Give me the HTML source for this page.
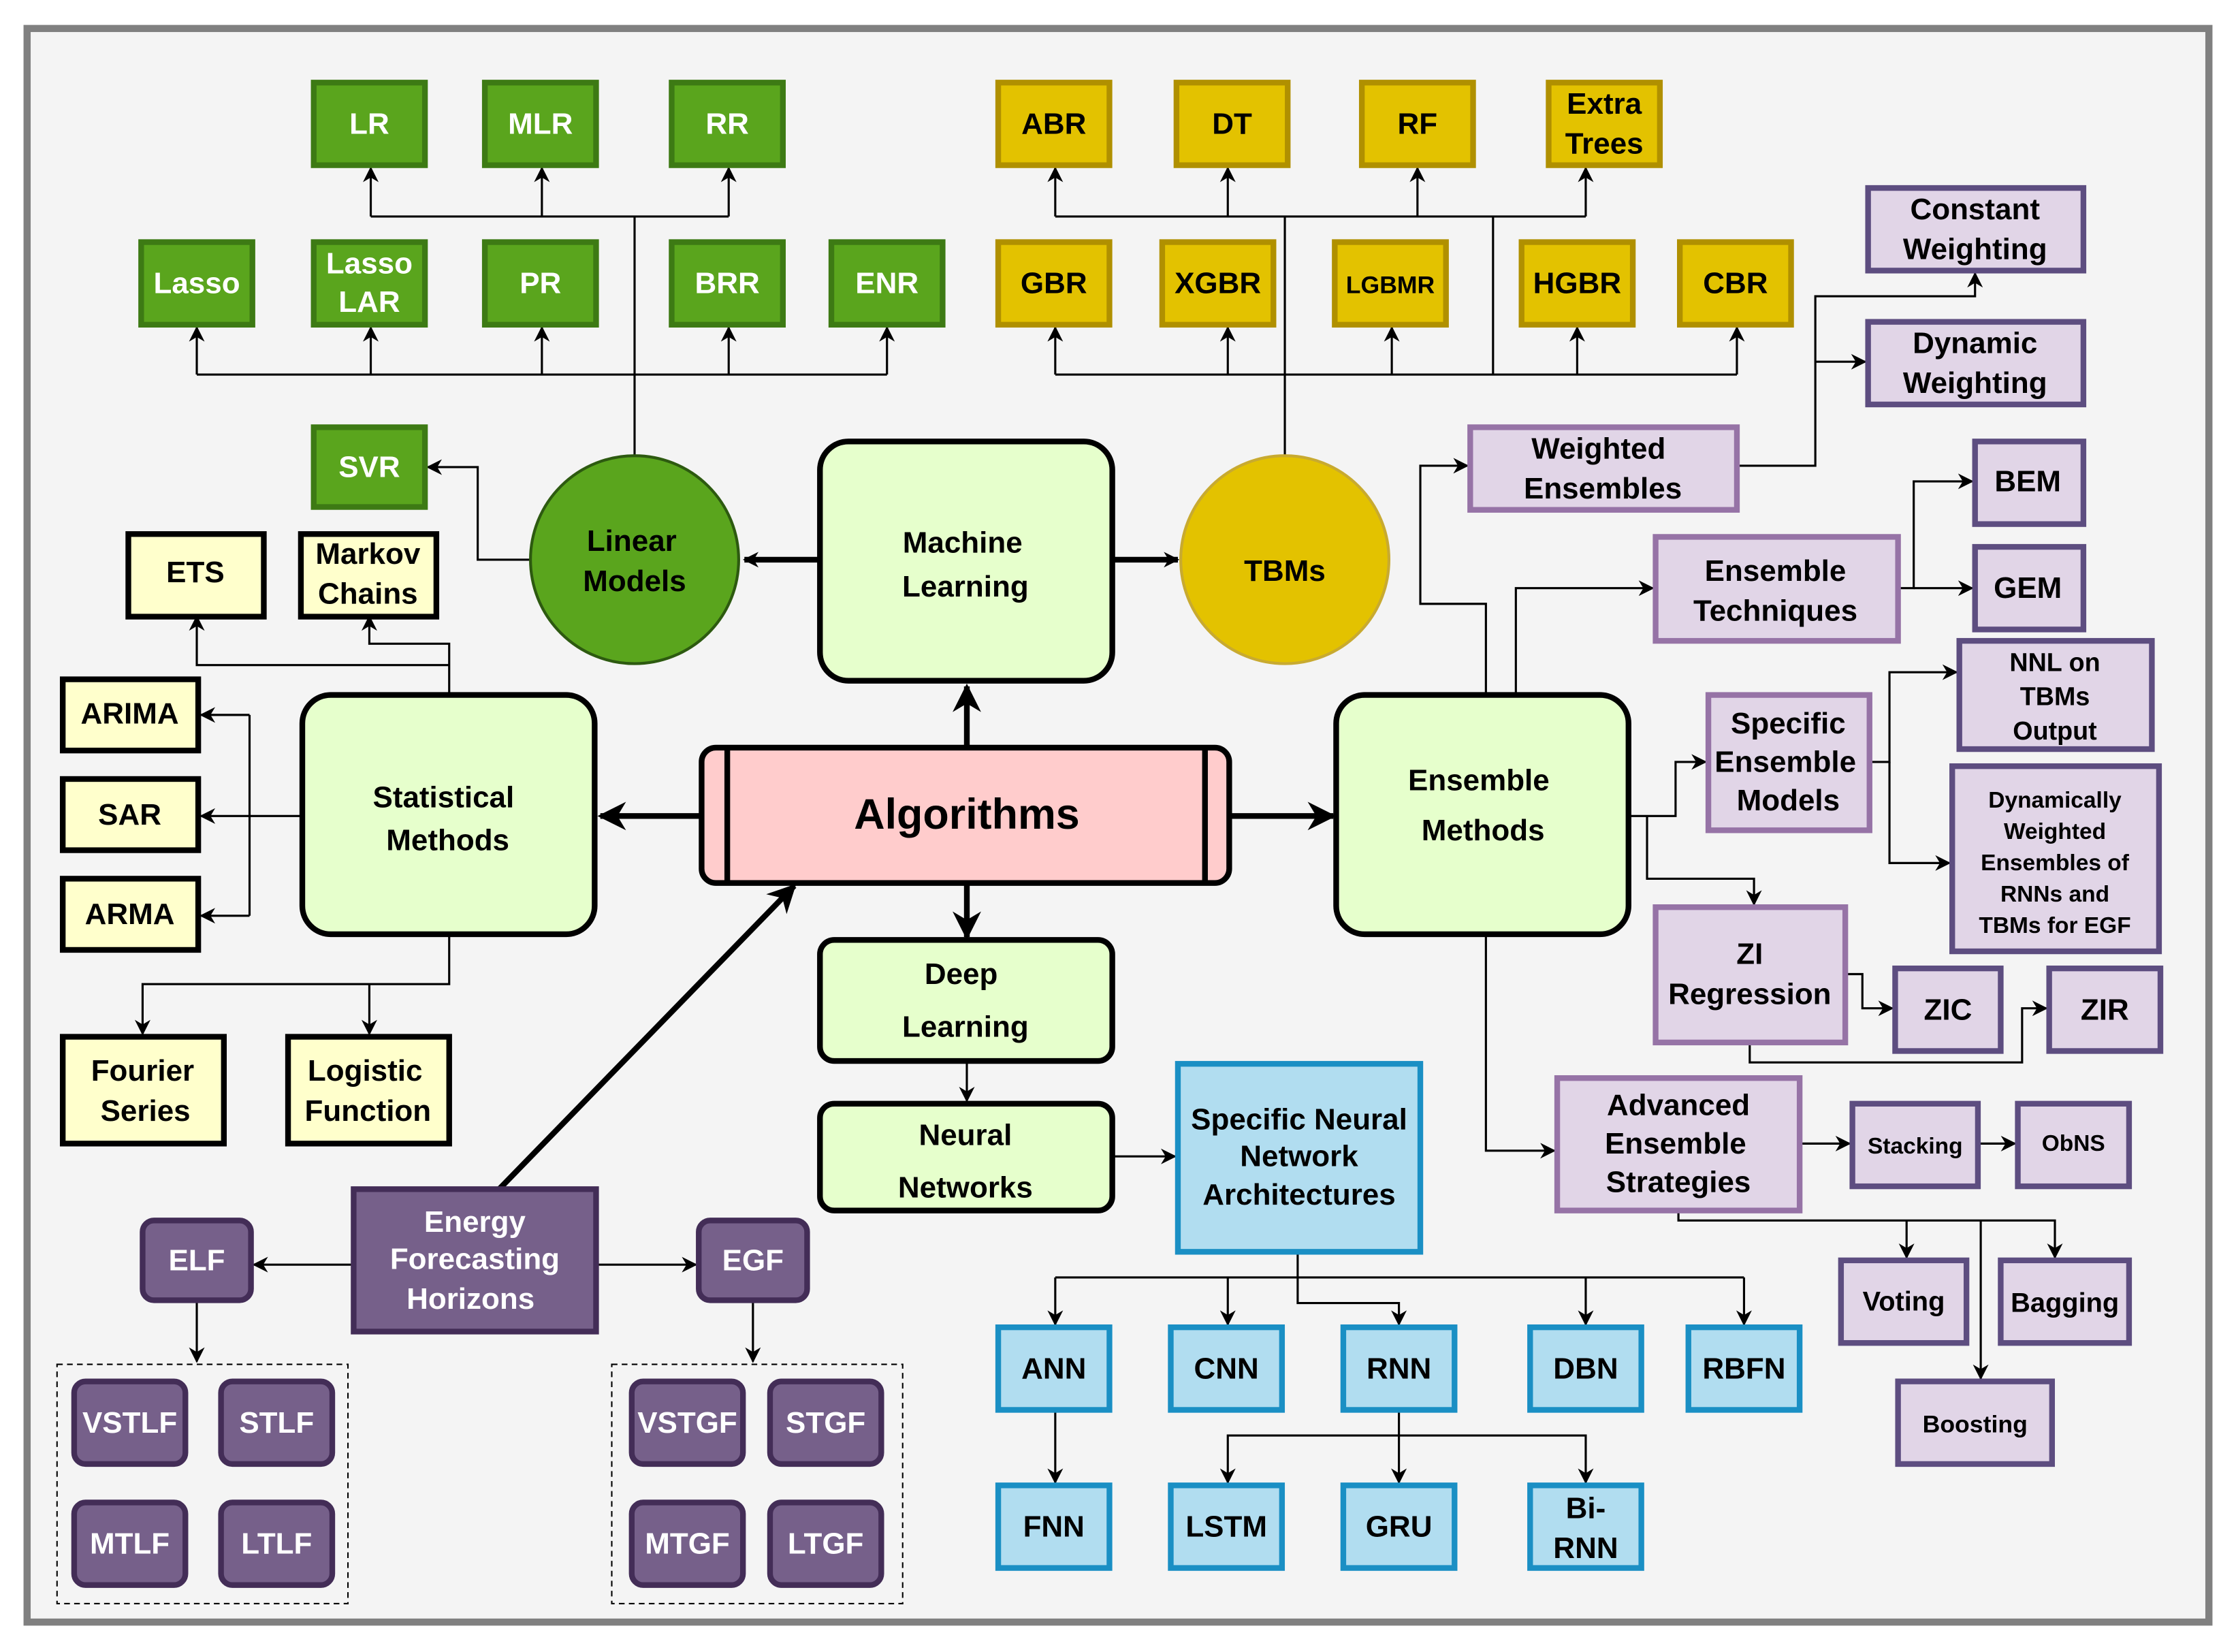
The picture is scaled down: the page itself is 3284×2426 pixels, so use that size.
<!DOCTYPE html>
<html><head><meta charset="utf-8"><style>
html,body{margin:0;padding:0;background:#fff}
svg{display:block}
text{font-family:"Liberation Sans",sans-serif;font-weight:bold;text-anchor:middle;dominant-baseline:central}
</style></head><body>
<svg width="3284" height="2426" viewBox="0 0 1568 1160" preserveAspectRatio="none" xmlns="http://www.w3.org/2000/svg">
<defs>
<marker id="a" viewBox="0 0 10 10" refX="9" refY="5" markerWidth="7" markerHeight="7" orient="auto-start-reverse" markerUnits="userSpaceOnUse"><path d="M0,0 L10,5 L0,10 L3,5z" fill="#000"/></marker>
<marker id="b" viewBox="0 0 10 10" refX="9" refY="5" markerWidth="20" markerHeight="20" orient="auto" markerUnits="userSpaceOnUse"><path d="M0,0 L10,5 L0,10 L3,5z" fill="#000"/></marker>
<marker id="c" viewBox="0 0 10 10" refX="9" refY="5" markerWidth="11" markerHeight="11" orient="auto" markerUnits="userSpaceOnUse"><path d="M0,0 L10,5 L0,10 L3,5z" fill="#000"/></marker>
</defs>
<rect x="0" y="0" width="1568" height="1160" fill="#fff"/>
<rect x="19" y="20" width="1530" height="1119" fill="#f4f4f4" stroke="#808080" stroke-width="5"/>

<g fill="none" stroke="#000" stroke-width="1.5">
<!-- linear -->
<path d="M445,320 V152"/><path d="M260,152 H511"/>
<path d="M260,152 V118" marker-end="url(#c)"/><path d="M380,152 V118" marker-end="url(#c)"/><path d="M511,152 V118" marker-end="url(#c)"/>
<path d="M138,263 H622"/>
<path d="M138,263 V230" marker-end="url(#c)"/><path d="M260,263 V230" marker-end="url(#c)"/><path d="M380,263 V230" marker-end="url(#c)"/><path d="M511,263 V230" marker-end="url(#c)"/><path d="M622,263 V230" marker-end="url(#c)"/>
<path d="M372,393 H335 V328 H300" marker-end="url(#c)"/>
<!-- TBM -->
<path d="M901,320 V152"/><path d="M740,152 H1112"/>
<path d="M740,152 V118" marker-end="url(#c)"/><path d="M861,152 V118" marker-end="url(#c)"/><path d="M994,152 V118" marker-end="url(#c)"/><path d="M1112,152 V118" marker-end="url(#c)"/>
<path d="M740,263 H1218"/><path d="M1047,152 V263"/>
<path d="M740,263 V230" marker-end="url(#c)"/><path d="M861,263 V230" marker-end="url(#c)"/><path d="M976,263 V230" marker-end="url(#c)"/><path d="M1106,263 V230" marker-end="url(#c)"/><path d="M1218,263 V230" marker-end="url(#c)"/>
<!-- statistical -->
<path d="M315,488 V452 H259 V433" marker-end="url(#c)"/>
<path d="M315,467 H138 V433" marker-end="url(#c)"/>
<path d="M212,573 H175"/><path d="M175,502 V643"/>
<path d="M175,502 H141" marker-end="url(#c)"/><path d="M175,573 H141" marker-end="url(#c)"/><path d="M175,643 H141" marker-end="url(#c)"/>
<path d="M315,656 V691 H100 V726" marker-end="url(#c)"/><path d="M259,691 V726" marker-end="url(#c)"/>
<!-- deep -->
<path d="M678,745 V773" marker-end="url(#c)"/>
<path d="M780,812 H824" marker-end="url(#c)"/>
<path d="M910,879 V897"/><path d="M740,897 H1223"/>
<path d="M740,897 V930" marker-end="url(#c)"/><path d="M861,897 V930" marker-end="url(#c)"/><path d="M1112,897 V930" marker-end="url(#c)"/><path d="M1223,897 V930" marker-end="url(#c)"/>
<path d="M910,897 V915 H981 V930" marker-end="url(#c)"/>
<path d="M740,990 V1041" marker-end="url(#c)"/>
<path d="M981,990 V1008 H861 V1041" marker-end="url(#c)"/><path d="M981,1008 V1041" marker-end="url(#c)"/><path d="M981,1008 H1112 V1041" marker-end="url(#c)"/>
<!-- energy -->
<path d="M248,888 H178" marker-end="url(#c)"/><path d="M418,888 H488" marker-end="url(#c)"/>
<path d="M138,913 V956" marker-end="url(#c)"/><path d="M528,913 V956" marker-end="url(#c)"/>
<!-- ensemble -->
<path d="M1042,488 V424 H996 V327 H1029" marker-end="url(#c)"/>
<path d="M1063,488 V413 H1159" marker-end="url(#c)"/>
<path d="M1218,327 H1273 V208 H1385 V192" marker-end="url(#c)"/>
<path d="M1273,254 H1308" marker-end="url(#c)"/>
<path d="M1331,413 H1342 V338 H1383" marker-end="url(#c)"/><path d="M1342,413 H1383" marker-end="url(#c)"/>
<path d="M1142,573 H1175 V535 H1196" marker-end="url(#c)"/>
<path d="M1155,573 V617 H1230 V635" marker-end="url(#c)"/>
<path d="M1311,535 H1325 V472 H1372" marker-end="url(#c)"/><path d="M1325,535 V606 H1367" marker-end="url(#c)"/>
<path d="M1294,684 H1306 V708 H1327" marker-end="url(#c)"/>
<path d="M1227,732 V746 H1418 V708 H1435" marker-end="url(#c)"/>
<path d="M1042,656 V808 H1090" marker-end="url(#c)"/>
<path d="M1262,803 H1297" marker-end="url(#c)"/><path d="M1387,803 H1413" marker-end="url(#c)"/>
<path d="M1177,850 V857 H1441 V883" marker-end="url(#c)"/><path d="M1337,857 V883" marker-end="url(#c)"/><path d="M1389,857 V968" marker-end="url(#c)"/>
</g>
<!-- thick arrows -->
<g fill="none" stroke="#000" stroke-width="4">
<path d="M575,393 H522" marker-end="url(#c)"/><path d="M780,393 H826" marker-end="url(#c)"/>
<path d="M678,525 V482" marker-end="url(#b)"/><path d="M678,620 V658" marker-end="url(#b)"/>
<path d="M492,573 H421" marker-end="url(#b)"/><path d="M862,573 H935" marker-end="url(#b)"/>
<path d="M350,835 L557,622" marker-end="url(#b)"/>
</g>

<!-- dashed boxes -->
<rect x="40" y="958" width="204" height="168" fill="none" stroke="#000" stroke-dasharray="4,3"/>
<rect x="429" y="958" width="204" height="168" fill="none" stroke="#000" stroke-dasharray="4,3"/>

<!-- green -->
<g fill="#5aa51d" stroke="#3d7a14" stroke-width="4">
<rect x="220" y="58" width="78" height="58"/><rect x="340" y="58" width="78" height="58"/><rect x="471" y="58" width="78" height="58"/>
<rect x="99" y="170" width="78" height="58"/><rect x="220" y="170" width="78" height="58"/><rect x="340" y="170" width="78" height="58"/><rect x="471" y="170" width="78" height="58"/><rect x="583" y="170" width="78" height="58"/>
<rect x="220" y="300" width="78" height="56"/>
<circle cx="445" cy="393" r="73" stroke="#2d5a10" stroke-width="2"/>
</g>
<g fill="#fff" font-size="21">
<text x="259" y="87">LR</text><text x="379" y="87">MLR</text><text x="510" y="87">RR</text>
<text x="138" y="199">Lasso</text><text x="259" y="185">Lasso</text><text x="259" y="212">LAR</text><text x="379" y="199">PR</text><text x="510" y="199">BRR</text><text x="622" y="199">ENR</text>
<text x="259" y="328">SVR</text>
</g>
<text x="443" y="380" font-size="21" fill="#000">Linear</text><text x="445" y="408" font-size="21" fill="#000">Models</text>

<!-- yellow -->
<g fill="#e3c200" stroke="#b09000" stroke-width="4">
<rect x="700" y="58" width="78" height="58"/><rect x="825" y="58" width="78" height="58"/><rect x="955" y="58" width="78" height="58"/><rect x="1086" y="58" width="78" height="58"/>
<rect x="700" y="170" width="78" height="58"/><rect x="815" y="170" width="78" height="58"/><rect x="936" y="170" width="78" height="58"/><rect x="1067" y="170" width="78" height="58"/><rect x="1178" y="170" width="78" height="58"/>
<circle cx="901" cy="393" r="73" stroke="#c8aa30" stroke-width="2"/>
</g>
<g fill="#000" font-size="21">
<text x="739" y="87">ABR</text><text x="864" y="87">DT</text><text x="994" y="87">RF</text><text x="1125" y="73">Extra</text><text x="1125" y="101">Trees</text>
<text x="739" y="199">GBR</text><text x="854" y="199">XGBR</text><text x="975" y="200" font-size="17">LGBMR</text><text x="1106" y="199">HGBR</text><text x="1217" y="199">CBR</text>
<text x="901" y="401">TBMs</text>
</g>

<!-- light green main -->
<g fill="#e6ffcc" stroke="#000" stroke-width="4">
<rect x="575" y="310" width="205" height="168" rx="20"/>
<rect x="212" y="488" width="205" height="168" rx="20"/>
<rect x="937" y="488" width="205" height="168" rx="20"/>
<rect x="575" y="660" width="205" height="85" rx="10"/>
<rect x="575" y="775" width="205" height="75" rx="10"/>
</g>
<g fill="#000" font-size="21">
<text x="675" y="381">Machine</text><text x="677" y="412">Learning</text>
<text x="311" y="560">Statistical</text><text x="314" y="590">Methods</text>
<text x="1037" y="548">Ensemble</text><text x="1040" y="583">Methods</text>
<text x="674" y="684">Deep</text><text x="677" y="721">Learning</text>
<text x="677" y="797">Neural</text><text x="677" y="834">Networks</text>
</g>

<!-- algorithms -->
<rect x="492" y="525" width="370" height="95" rx="10" fill="#ffcccc" stroke="#000" stroke-width="4"/>
<path d="M510,525 V620 M845,525 V620" stroke="#000" stroke-width="4"/>
<text x="678" y="572" font-size="30" fill="#000">Algorithms</text>

<!-- light yellow -->
<g fill="#ffffcc" stroke="#000" stroke-width="4">
<rect x="90" y="375" width="95" height="58"/><rect x="211" y="375" width="95" height="58"/>
<rect x="44" y="477" width="95" height="50"/><rect x="44" y="547" width="95" height="50"/><rect x="44" y="617" width="95" height="50"/>
<rect x="44" y="728" width="113" height="75"/><rect x="202" y="728" width="113" height="75"/>
</g>
<g fill="#000" font-size="21">
<text x="137" y="402">ETS</text><text x="258" y="389">Markov</text><text x="258" y="417">Chains</text>
<text x="91" y="501">ARIMA</text><text x="91" y="572">SAR</text><text x="91" y="642">ARMA</text>
<text x="100" y="752">Fourier</text><text x="102" y="780">Series</text><text x="256" y="752">Logistic</text><text x="258" y="780">Function</text>
</g>

<!-- dark purple -->
<g fill="#76608a" stroke="#432d57" stroke-width="4">
<rect x="248" y="835" width="170" height="100"/>
<rect x="100" y="857" width="76" height="56" rx="8"/><rect x="490" y="857" width="76" height="56" rx="8"/>
<rect x="52" y="970" width="78" height="58" rx="8"/><rect x="155" y="970" width="78" height="58" rx="8"/><rect x="52" y="1055" width="78" height="58" rx="8"/><rect x="155" y="1055" width="78" height="58" rx="8"/>
<rect x="443" y="970" width="78" height="58" rx="8"/><rect x="540" y="970" width="78" height="58" rx="8"/><rect x="443" y="1055" width="78" height="58" rx="8"/><rect x="540" y="1055" width="78" height="58" rx="8"/>
</g>
<g fill="#fff" font-size="21">
<text x="333" y="858">Energy</text><text x="333" y="884">Forecasting</text><text x="330" y="912">Horizons</text>
<text x="138" y="885">ELF</text><text x="528" y="885">EGF</text>
<text x="91" y="999">VSTLF</text><text x="194" y="999">STLF</text><text x="91" y="1084">MTLF</text><text x="194" y="1084">LTLF</text>
<text x="482" y="999">VSTGF</text><text x="579" y="999">STGF</text><text x="482" y="1084">MTGF</text><text x="579" y="1084">LTGF</text>
</g>

<!-- blue -->
<g fill="#b1ddf0" stroke="#1a8fc4" stroke-width="4">
<rect x="826" y="747" width="170" height="132"/>
<rect x="700" y="932" width="78" height="58"/><rect x="821" y="932" width="78" height="58"/><rect x="942" y="932" width="78" height="58"/><rect x="1073" y="932" width="78" height="58"/><rect x="1184" y="932" width="78" height="58"/>
<rect x="700" y="1043" width="78" height="58"/><rect x="821" y="1043" width="78" height="58"/><rect x="942" y="1043" width="78" height="58"/><rect x="1073" y="1043" width="78" height="58"/>
</g>
<g fill="#000" font-size="21">
<text x="911" y="786">Specific Neural</text><text x="911" y="812">Network</text><text x="911" y="839">Architectures</text>
<text x="739" y="961">ANN</text><text x="860" y="961">CNN</text><text x="981" y="961">RNN</text><text x="1112" y="961">DBN</text><text x="1223" y="961">RBFN</text>
<text x="739" y="1072">FNN</text><text x="860" y="1072">LSTM</text><text x="981" y="1072">GRU</text><text x="1112" y="1059">Bi-</text><text x="1112" y="1087">RNN</text>
</g>

<!-- light purple -->
<g fill="#e1d5e7" stroke="#9673a6" stroke-width="4">
<rect x="1031" y="300" width="187" height="58"/>
<rect x="1161" y="377" width="170" height="73"/>
<rect x="1198" y="488" width="113" height="95"/>
<rect x="1161" y="637" width="133" height="95"/>
<rect x="1092" y="757" width="170" height="93"/>
</g>
<g fill="#e1d5e7" stroke="#5d4d80" stroke-width="4">
<rect x="1310" y="132" width="151" height="58"/><rect x="1310" y="226" width="151" height="58"/>
<rect x="1385" y="310" width="76" height="58"/><rect x="1385" y="384" width="76" height="58"/>
<rect x="1374" y="450" width="135" height="76"/><rect x="1369" y="538" width="145" height="130"/>
<rect x="1329" y="680" width="74" height="58"/><rect x="1437" y="680" width="78" height="58"/>
<rect x="1299" y="775" width="88" height="58"/><rect x="1415" y="775" width="78" height="58"/>
<rect x="1291" y="885" width="88" height="58"/><rect x="1403" y="885" width="90" height="58"/><rect x="1331" y="970" width="108" height="58"/>
</g>
<g fill="#000" font-size="21">
<text x="1121" y="315">Weighted</text><text x="1124" y="343">Ensembles</text>
<text x="1245" y="401">Ensemble</text><text x="1245" y="429">Techniques</text>
<text x="1254" y="508">Specific</text><text x="1252" y="535">Ensemble</text><text x="1254" y="562">Models</text>
<text x="1227" y="670">ZI</text><text x="1227" y="698">Regression</text>
<text x="1177" y="776">Advanced</text><text x="1175" y="803">Ensemble</text><text x="1177" y="830">Strategies</text>
<text x="1385" y="147">Constant</text><text x="1385" y="175">Weighting</text>
<text x="1385" y="241">Dynamic</text><text x="1385" y="269">Weighting</text>
<text x="1422" y="338">BEM</text><text x="1422" y="413">GEM</text>
<text x="1441" y="465" font-size="18">NNL on</text><text x="1441" y="489" font-size="18">TBMs</text><text x="1441" y="513" font-size="18">Output</text>
<g font-size="16"><text x="1441" y="562">Dynamically</text><text x="1441" y="584">Weighted</text><text x="1441" y="606">Ensembles of</text><text x="1441" y="628">RNNs and</text><text x="1441" y="650">TBMs for EGF</text></g>
<text x="1366" y="709">ZIC</text><text x="1476" y="709">ZIR</text>
<text x="1343" y="805" font-size="16">Stacking</text><text x="1454" y="803" font-size="16">ObNS</text>
<text x="1335" y="914" font-size="19">Voting</text><text x="1448" y="915" font-size="19">Bagging</text><text x="1385" y="1000" font-size="17">Boosting</text>
</g>
</svg>
</body></html>
